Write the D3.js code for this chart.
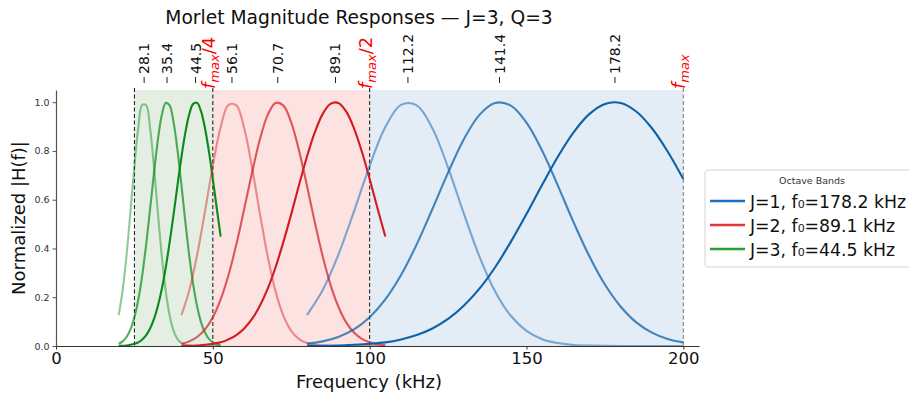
<!DOCTYPE html>
<html>
<head>
<meta charset="utf-8">
<script src="https://cdn.jsdelivr.net/npm/d3@7"></script>
<style>
  html, body { margin: 0; padding: 0; background: #fff; }
  svg { display: block; font-family: "DejaVu Sans", sans-serif; }
</style>
</head>
<body>
<svg id="chart" width="909" height="397"></svg>
<script>
// Octave bands (kHz) and their shading / label colours
const bands = [
  { name: "J=3", lo: 25, hi: 50, fill: "#e4eee2" },
  { name: "J=2", lo: 50, hi: 100, fill: "#fde2e2" },
  { name: "J=1", lo: 100, hi: 200, fill: "#e4ecf5" }
];

// Centre frequencies of the filters (kHz), shown along the top
const centerFreqs = [28.1, 35.4, 44.5, 56.1, 70.7, 89.1, 112.2, 141.4, 178.2];

// Band edge markers
const edgeMarks = [
  { f: 50, sub: "max", tail: "/4" },
  { f: 100, sub: "max", tail: "/2" },
  { f: 200, sub: "max", tail: "" }
];

// Frequency grids (kHz) on which each band's responses are sampled
const freqJ3 = [20, 21.25, 22.5, 23.75, 25, 26.25, 27.5, 28.75, 30, 31.25, 32.5, 33.75, 35, 36.25, 37.5, 38.75, 40, 41.25, 42.5, 43.75, 45, 46.25, 47.5, 48.75, 50, 51.25, 52.5];
const freqJ2 = [40, 42.5, 45, 47.5, 50, 52.5, 55, 57.5, 60, 62.5, 65, 67.5, 70, 72.5, 75, 77.5, 80, 82.5, 85, 87.5, 90, 92.5, 95, 97.5, 100, 102.5, 105];
const freqJ1 = [80, 85, 90, 95, 100, 105, 110, 115, 120, 125, 130, 135, 140, 145, 150, 155, 160, 165, 170, 175, 180, 185, 190, 195, 200];

// Normalized magnitude responses |H(f)|
const resp28 = [0.127, 0.229, 0.374, 0.552, 0.739, 0.898, 0.989, 0.987, 0.893, 0.732, 0.544, 0.367, 0.224, 0.124, 0.062, 0.028, 0.012, 0.004, 0.002, 0.001, 0, 0, 0, 0, 0, 0, 0];
const resp35 = [0.009, 0.019, 0.037, 0.068, 0.118, 0.191, 0.291, 0.417, 0.562, 0.711, 0.847, 0.948, 0.997, 0.986, 0.916, 0.801, 0.658, 0.508, 0.369, 0.252, 0.162, 0.097, 0.055, 0.029, 0.015, 0.007, 0.003];
const resp44 = [0.001, 0.001, 0.002, 0.005, 0.009, 0.015, 0.027, 0.045, 0.072, 0.111, 0.165, 0.235, 0.323, 0.427, 0.541, 0.661, 0.776, 0.876, 0.951, 0.993, 0.997, 0.962, 0.893, 0.798, 0.685, 0.565, 0.449];

const resp56 = [0.127, 0.229, 0.374, 0.552, 0.739, 0.898, 0.989, 0.987, 0.893, 0.732, 0.544, 0.367, 0.224, 0.124, 0.062, 0.028, 0.012, 0.004, 0.002, 0.001, 0, 0, 0, 0, 0, 0, 0];
const resp70 = [0.009, 0.019, 0.037, 0.068, 0.118, 0.191, 0.291, 0.417, 0.562, 0.711, 0.847, 0.948, 0.997, 0.986, 0.916, 0.801, 0.658, 0.508, 0.369, 0.252, 0.162, 0.097, 0.055, 0.029, 0.015, 0.007, 0.003];
const resp89 = [0.001, 0.001, 0.002, 0.005, 0.009, 0.015, 0.027, 0.045, 0.072, 0.111, 0.165, 0.235, 0.323, 0.427, 0.541, 0.661, 0.776, 0.876, 0.951, 0.993, 0.997, 0.962, 0.893, 0.798, 0.685, 0.565, 0.449];

const resp112 = [0.127, 0.229, 0.374, 0.552, 0.739, 0.898, 0.989, 0.987, 0.893, 0.732, 0.544, 0.367, 0.224, 0.124, 0.062, 0.028, 0.012, 0.004, 0.002, 0.001, 0, 0, 0, 0, 0];
const resp141 = [0.009, 0.019, 0.037, 0.068, 0.118, 0.191, 0.291, 0.417, 0.562, 0.711, 0.847, 0.948, 0.997, 0.986, 0.916, 0.801, 0.658, 0.508, 0.369, 0.252, 0.162, 0.097, 0.055, 0.029, 0.015];
const resp178 = [0.001, 0.001, 0.002, 0.005, 0.009, 0.015, 0.027, 0.045, 0.072, 0.111, 0.165, 0.235, 0.323, 0.427, 0.541, 0.661, 0.776, 0.876, 0.951, 0.993, 0.997, 0.962, 0.893, 0.798, 0.685];

// Filters per octave, lightest (lowest) first
const filters = [
  { freq: freqJ3, resp: resp28, color: "#0a8a1a", alpha: 0.45 },
  { freq: freqJ3, resp: resp35, color: "#0a8a1a", alpha: 0.7 },
  { freq: freqJ3, resp: resp44, color: "#0a8a1a", alpha: 1 },
  { freq: freqJ2, resp: resp56, color: "#d41a1f", alpha: 0.45 },
  { freq: freqJ2, resp: resp70, color: "#d41a1f", alpha: 0.7 },
  { freq: freqJ2, resp: resp89, color: "#d41a1f", alpha: 1 },
  { freq: freqJ1, resp: resp112, color: "#0a62ac", alpha: 0.5 },
  { freq: freqJ1, resp: resp141, color: "#0a62ac", alpha: 0.75 },
  { freq: freqJ1, resp: resp178, color: "#0a62ac", alpha: 1 }
];

// Legend entries
const legendItems = [
  { label: "J=1, f\u2080=178.2 kHz", color: "#1f6fbf" },
  { label: "J=2, f\u2080=89.1 kHz", color: "#e0363b" },
  { label: "J=3, f\u2080=44.5 kHz", color: "#2a9f36" }
];

const xTicks = [0, 50, 100, 150, 200];
const yTicks = [0, 0.2, 0.4, 0.6, 0.8, 1.0];

const svg = d3.select("#chart");

const x = d3.scaleLinear().domain([0, 205]).range([56, 699]);
const y = d3.scaleLinear().domain([0, 1.05]).range([346, 90]);

// band shading
svg.append("g").selectAll("rect").data(bands).join("rect")
  .attr("x", d => x(d.lo))
  .attr("width", d => x(d.hi) - x(d.lo))
  .attr("y", y(1.05))
  .attr("height", y(0) - y(1.05))
  .attr("fill", d => d.fill);

// band boundaries
const edges = [
  { f: 25, color: "#111" },
  { f: 50, color: "#111" },
  { f: 100, color: "#111" },
  { f: 200, color: "#777" }
];
svg.append("g").selectAll("line").data(edges).join("line")
  .attr("x1", d => x(d.f)).attr("x2", d => x(d.f))
  .attr("y1", y(1.05) - 2).attr("y2", y(0))
  .attr("stroke", d => d.color)
  .attr("stroke-width", 1)
  .attr("stroke-dasharray", "4,2.5");

// response curves
const line = d3.line()
  .x(d => x(d[0]))
  .y(d => y(d[1]))
  .curve(d3.curveCatmullRom.alpha(0.5));

svg.append("g").selectAll("path").data(filters).join("path")
  .attr("d", d => line(d.freq.map((f, i) => [f, d.resp[i]])))
  .attr("fill", "none")
  .attr("stroke", d => d.color)
  .attr("stroke-opacity", d => d.alpha)
  .attr("stroke-width", 2.1)
  .attr("stroke-linejoin", "round")
  .attr("stroke-linecap", "butt");

// x axis
const xAxis = svg.append("g")
  .attr("transform", `translate(0,${y(0)})`)
  .call(d3.axisBottom(x).tickValues(xTicks).tickSize(3.5).tickPadding(3).tickSizeOuter(0));
xAxis.select(".domain").attr("stroke", "#333").attr("stroke-width", 1.2);
xAxis.selectAll(".tick line").attr("stroke", "#333");
xAxis.selectAll(".tick text")
  .attr("font-size", 16.5)
  .attr("font-family", "DejaVu Sans, sans-serif")
  .attr("fill", "#111");

// y axis
const yAxis = svg.append("g")
  .attr("transform", `translate(${x(0)},0)`)
  .call(d3.axisLeft(y).tickValues(yTicks).tickFormat(d3.format(".1f")).tickSize(3.5).tickPadding(3).tickSizeOuter(0));
yAxis.select(".domain").attr("stroke", "#555").attr("stroke-width", 1.2);
yAxis.selectAll(".tick line").attr("stroke", "#555");
yAxis.selectAll(".tick text")
  .attr("font-size", 9.5)
  .attr("font-family", "DejaVu Sans, sans-serif")
  .attr("fill", "#333");

// top ticks at centre frequencies
const topAxis = svg.append("g");
topAxis.selectAll("line").data(centerFreqs).join("line")
  .attr("x1", d => x(d)).attr("x2", d => x(d))
  .attr("y1", 77).attr("y2", 83)
  .attr("stroke", "#222").attr("stroke-width", 1);
topAxis.selectAll("text").data(centerFreqs).join("text")
  .attr("transform", d => `translate(${x(d) + 5},74) rotate(-90)`)
  .attr("font-size", 14)
  .attr("fill", "#111")
  .text(d => d3.format(".1f")(d));

// band-edge labels
const edgeText = svg.append("g").selectAll("text").data(edgeMarks).join("text")
  .attr("transform", d => `translate(${x(d.f) + 2},89) rotate(-90)`)
  .attr("fill", "red")
  .attr("font-size", 18);
edgeText.append("tspan").attr("font-style", "italic").text("f");
edgeText.append("tspan").attr("font-style", "italic").attr("font-size", 13).attr("dy", 4).text(d => d.sub);
edgeText.append("tspan").attr("dy", -4).text(d => d.tail);

// title
svg.append("text")
  .attr("x", 359).attr("y", 24)
  .attr("text-anchor", "middle")
  .attr("font-size", 18.7)
  .attr("fill", "#111")
  .text("Morlet Magnitude Responses \u2014 J=3, Q=3");

// axis titles
svg.append("text")
  .attr("x", 369).attr("y", 388)
  .attr("text-anchor", "middle")
  .attr("font-size", 18)
  .attr("fill", "#111")
  .text("Frequency (kHz)");

svg.append("text")
  .attr("transform", "translate(25,218) rotate(-90)")
  .attr("text-anchor", "middle")
  .attr("font-size", 18)
  .attr("fill", "#111")
  .text("Normalized |H(f)|");

// legend
const lg = svg.append("g").attr("transform", "translate(705,170)");
lg.append("rect")
  .attr("x", 0).attr("y", 0)
  .attr("width", 215).attr("height", 97)
  .attr("rx", 3)
  .attr("fill", "#fff")
  .attr("stroke", "#d4d4d4");
lg.append("text")
  .attr("x", 107).attr("y", 14)
  .attr("text-anchor", "middle")
  .attr("font-size", 9.5)
  .attr("fill", "#333")
  .text("Octave Bands");
const li = lg.selectAll("g.item").data(legendItems).join("g")
  .attr("class", "item")
  .attr("transform", (d, i) => `translate(0,${31 + i * 24})`);
li.append("line")
  .attr("x1", 5).attr("x2", 40)
  .attr("stroke", d => d.color)
  .attr("stroke-width", 2.5);
li.append("text")
  .attr("x", 45).attr("y", 6.5)
  .attr("font-size", 17.3)
  .attr("fill", "#111")
  .text(d => d.label);
</script>
</body>
</html>
